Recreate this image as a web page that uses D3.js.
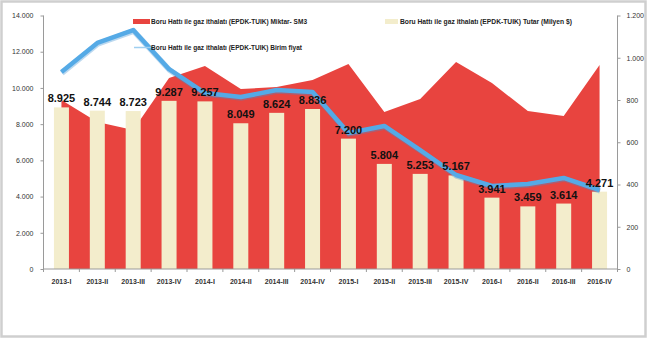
<!DOCTYPE html>
<html>
<head>
<meta charset="utf-8">
<script src="https://cdn.jsdelivr.net/npm/d3@7"></script>
<style>
  body { margin: 0; background: #fff; }
  text { font-family: "Liberation Sans", Arial, sans-serif; }
</style>
</head>
<body>
<div id="chart"></div>
<script>
const categories = [
  "2013-I", "2013-II", "2013-III", "2013-IV",
  "2014-I", "2014-II", "2014-III", "2014-IV",
  "2015-I", "2015-II", "2015-III", "2015-IV",
  "2016-I", "2016-II", "2016-III", "2016-IV",
];
// red area - Miktar (left axis)
const miktar = [9330, 8120, 7680, 10550, 11210, 9940, 10050, 10440,
  11320, 8670, 9390, 11430, 10270, 8720, 8450, 11260];
// beige bars - Tutar (left axis), labelled
const tutar = [8925, 8744, 8723, 9287, 9257, 8049, 8624, 8836,
  7200, 5804, 5253, 5167, 3941, 3459, 3614, 4271];
// blue line - Birim fiyat (right axis)
const birimFiyat = [932, 1070, 1131, 946, 833, 814, 847, 838,
  644, 677, 563, 445, 393, 402, 431, 374];
const leftTicks = [0, 2000, 4000, 6000, 8000, 10000, 12000, 14000];
const rightTicks = [0, 200, 400, 600, 800, 1000, 1200];
const seriesNames = [
  "Boru Hattı ile gaz ithalatı (EPDK-TUIK) Miktar- SM3",
  "Boru Hattı ile gaz ithalatı (EPDK-TUIK) Birim fiyat",
  "Boru Hattı ile gaz ithalatı (EPDK-TUIK) Tutar (Milyen $)",
];

const width = 648, height = 340;
const plot = { left: 43.5, right: 617.5, top: 15.5, bottom: 269 };
const red = "#e8443f", beige = "#f3edcc", blue = "#55aae6";

const fmt = (v) => d3.format(",")(v).replace(/,/g, ".");

let svg;
const initSvg = () => {
  svg = d3.select("#chart").append("svg")
    .attr("width", width).attr("height", height);
  // outer frame
  svg.append("rect")
    .attr("x", 1.5).attr("y", 1.5)
    .attr("width", 644).attr("height", 335)
    .attr("fill", "#fff").attr("stroke", "#cfcfcf").attr("stroke-width", 2.5);
};

const drawScales = () => {
  const xScale = d3.scaleBand().domain(categories)
    .range([plot.left, plot.right]).padding(0);
  const yLeft = d3.scaleLinear().domain([0, 14000]).range([plot.bottom, plot.top]);
  const yRight = d3.scaleLinear().domain([0, 1200]).range([plot.bottom, plot.top]);
  return { xScale, yLeft, yRight };
};

const drawAxes = ({ xScale, yLeft, yRight }) => {
  const left = svg.append("g").attr("transform", `translate(${plot.left},0)`)
    .call(d3.axisLeft(yLeft).tickValues(leftTicks).tickFormat(fmt).tickSize(3).tickPadding(7));
  const right = svg.append("g").attr("transform", `translate(${plot.right},0)`)
    .call(d3.axisRight(yRight).tickValues(rightTicks).tickFormat(fmt).tickSize(3).tickPadding(6));
  // bottom axis: ticks at band boundaries
  const bottom = svg.append("g").attr("transform", `translate(0,${plot.bottom})`);
  bottom.append("line")
    .attr("x1", plot.left).attr("x2", plot.right)
    .attr("stroke", "#9a9a9a");
  bottom.selectAll(".tk").data(categories.concat(["end"])).enter().append("line")
    .attr("x1", (d, i) => plot.left + i * xScale.step())
    .attr("x2", (d, i) => plot.left + i * xScale.step())
    .attr("y1", 0).attr("y2", 3).attr("stroke", "#9a9a9a");
  bottom.selectAll(".cat").data(categories).enter().append("text")
    .attr("x", (d) => xScale(d) + xScale.bandwidth() / 2)
    .attr("y", 15)
    .attr("text-anchor", "middle")
    .style("font-size", "7px").style("font-weight", "bold").style("fill", "#333")
    .text((d) => d);
  [left, right].forEach((g) => {
    g.select(".domain").attr("stroke", "#9a9a9a");
    g.selectAll(".tick line").attr("stroke", "#9a9a9a");
    g.selectAll(".tick text").style("font-size", "7px").style("fill", "#333")
      .style("font-family", "Liberation Sans, sans-serif");
  });
  left.select(".domain").attr("d", `M0,${plot.top}V${plot.bottom}`);
  right.select(".domain").attr("d", `M0,${plot.top}V${plot.bottom}`);
};

const drawArea = ({ xScale, yLeft }) => {
  const area = d3.area()
    .x((d, i) => xScale(categories[i]) + xScale.bandwidth() / 2)
    .y0(plot.bottom)
    .y1((d) => yLeft(d));
  svg.append("path").datum(miktar).attr("d", area).attr("fill", red);
};

const drawBars = ({ xScale, yLeft }) => {
  const bw = 15;
  svg.selectAll(".bar").data(tutar).enter().append("rect")
    .attr("class", "bar")
    .attr("x", (d, i) => xScale(categories[i]) + xScale.bandwidth() / 2 - bw / 2)
    .attr("y", (d) => yLeft(d))
    .attr("width", bw)
    .attr("height", (d) => plot.bottom - yLeft(d))
    .attr("fill", beige);
};

const drawLine = ({ xScale, yRight }) => {
  const line = d3.line()
    .x((d, i) => xScale(categories[i]) + xScale.bandwidth() / 2)
    .y((d) => yRight(d));
  svg.append("path").datum(birimFiyat).attr("d", line)
    .attr("fill", "none").attr("stroke", "#3d8fd0").attr("stroke-width", 5.5)
    .attr("stroke-opacity", 0.35).attr("transform", "translate(0.5,1)");
  svg.append("path").datum(birimFiyat).attr("d", line)
    .attr("fill", "none").attr("stroke", blue).attr("stroke-width", 4.5)
    .attr("stroke-linejoin", "round");
};

const drawLabels = ({ xScale, yLeft }) => {
  svg.selectAll(".value").data(tutar).enter().append("text")
    .attr("class", "value")
    .attr("x", (d, i) => xScale(categories[i]) + xScale.bandwidth() / 2)
    .attr("y", (d) => yLeft(d) - 5)
    .attr("text-anchor", "middle")
    .style("font-size", "11px").style("font-weight", "bold").style("fill", "#111")
    .text(fmt);
};

const drawLegend = () => {
  const lg = svg.append("g");
  lg.append("rect").attr("x", 133).attr("y", 19).attr("width", 17).attr("height", 5).attr("fill", red);
  lg.append("line").attr("x1", 134).attr("x2", 151).attr("y1", 47.5).attr("y2", 47.5)
    .attr("stroke", "#9fcff0").attr("stroke-width", 1.5);
  lg.append("rect").attr("x", 385).attr("y", 19).attr("width", 13).attr("height", 5).attr("fill", beige);
  const items = [
    { x: 151, y: 24, w: 156, t: seriesNames[0] },
    { x: 151, y: 50, w: 151, t: seriesNames[1] },
    { x: 400, y: 24, w: 172, t: seriesNames[2] },
  ];
  lg.selectAll("text").data(items).enter().append("text")
    .attr("x", (d) => d.x).attr("y", (d) => d.y)
    .attr("textLength", (d) => d.w).attr("lengthAdjust", "spacingAndGlyphs")
    .style("font-size", "7px").style("font-weight", "bold").style("fill", "#222")
    .text((d) => d.t);
};

initSvg();
const scales = drawScales();
drawArea(scales);
drawBars(scales);
drawLine(scales);
drawAxes(scales);
drawLabels(scales);
drawLegend();
</script>
</body>
</html>
